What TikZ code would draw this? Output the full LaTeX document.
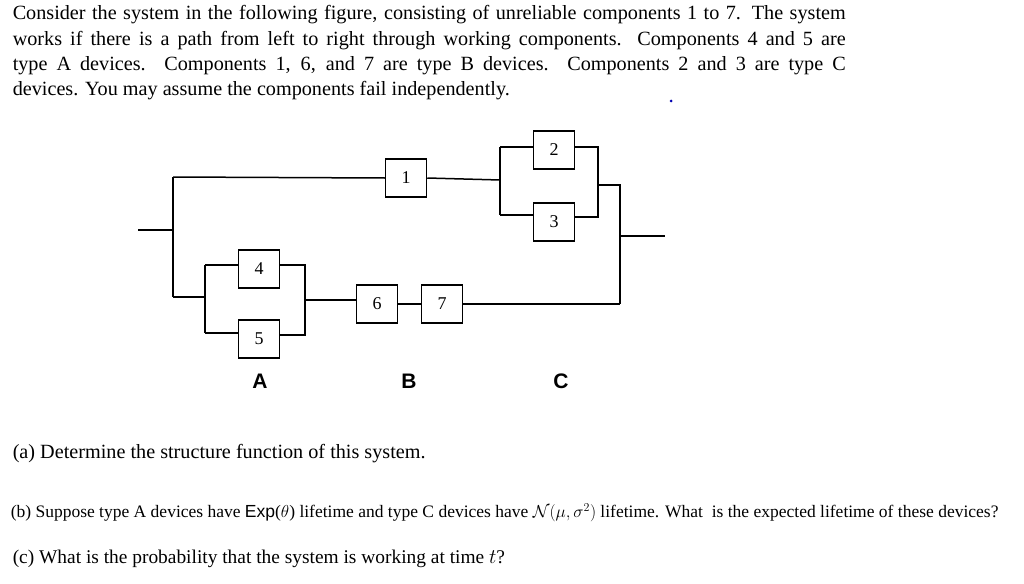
\documentclass[tikz,border=0pt]{standalone}
\usepackage{fontspec}
\setmainfont{Liberation Serif}
\setsansfont{Liberation Sans}
\usetikzlibrary{positioning}

\begin{document}
\begin{tikzpicture}[x=1pt,y=-1pt,line width=1.5pt]
    \tikzset{comp/.style={draw, minimum width=41pt, minimum height=38pt, inner sep=0pt, font=\fontsize{18}{20}\selectfont},
             type/.style={font=\sffamily\bfseries\fontsize{21}{24}\selectfont},
             txt/.style={anchor=west, inner sep=0pt, font=\fontsize{20.2}{25}\selectfont}}
    \useasboundingbox (0,0) rectangle (1024,583);

    \node[anchor=north west, inner sep=0pt, text width=833pt, align=justify,
          font=\fontsize{20.2}{25.3}\selectfont] (intro) at (12,5)
        {Consider the system in the following figure, consisting of unreliable components 1 to 7. The system\linebreak
         works if there is a path from left to right through working components. Components 4 and 5 are\linebreak
         type A devices. Components 1, 6, and 7 are type B devices. Components 2 and 3 are type C\linebreak
         devices. You may assume the components fail independently.};
    \fill[blue!70!black] (671,101) circle (1.5);

    % components
    \node[comp] (c1) at (406,178) {1};
    \node[comp] (c2) at (554,150) {2};
    \node[comp] (c3) at (554,222) {3};
    \node[comp] (c4) at (259,269) {4};
    \node[comp] (c5) at (259,339) {5};
    \node[comp] (c6) at (377,304) {6};
    \node[comp] (c7) at (442,304) {7};

    % junctions
    \coordinate (in) at (138,230);
    \coordinate (jl) at (173,230);
    \coordinate (out) at (665,236);
    \coordinate (jr) at (620,236);

    \draw (in) -- (jl);
    \draw (173,177) -- (173,297);
    \draw (173,177) -- (c1.west);
    \draw (c1.east) -- (500,180);
    \draw (500,147) -- (500,215);
    \draw (500,147) -- (c2.west |- 500,147);
    \draw (500,215) -- (c3.west |- 500,215);
    \draw (c2.east |- 598,147) -- (598,147) -- (598,217) -- (c3.east |- 598,217);
    \draw (598,185) -- (620,185) -- (620,304);
    \draw (jr) -- (out);

    \draw (173,297) -- (205,297);
    \draw (205,265) -- (205,333);
    \draw (205,265) -- (c4.west |- 205,265);
    \draw (205,333) -- (c5.west |- 205,333);
    \draw (c4.east |- 305,265) -- (305,265) -- (305,335) -- (c5.east |- 305,335);
    \draw (305,300) -- (c6.west |- 305,300);
    \draw (c6.east) -- (c7.west);
    \draw (c7.east) -- (620,304);

    \node[type] (tA) at (260,381) {A};
    \node[type] (tB) at (409,381) {B};
    \node[type] (tC) at (561,381) {C};

    \node[txt] (qa) at (12,454) {(a) Determine the structure function of this system.};
    \node[txt, font=\fontsize{17.5}{20}\selectfont] (qb) at (10,513)
        {(b) Suppose type A devices have \textsf{Exp}($\theta$) lifetime and type C devices have $\mathcal{N}(\mu,\sigma^2)$ lifetime. What\ \ is the expected lifetime of these devices?};
    \node[txt, font=\fontsize{19.4}{25}\selectfont] (qc) at (12,559) {(c) What is the probability that the system is working at time $t$?};
\end{tikzpicture}
\end{document}
